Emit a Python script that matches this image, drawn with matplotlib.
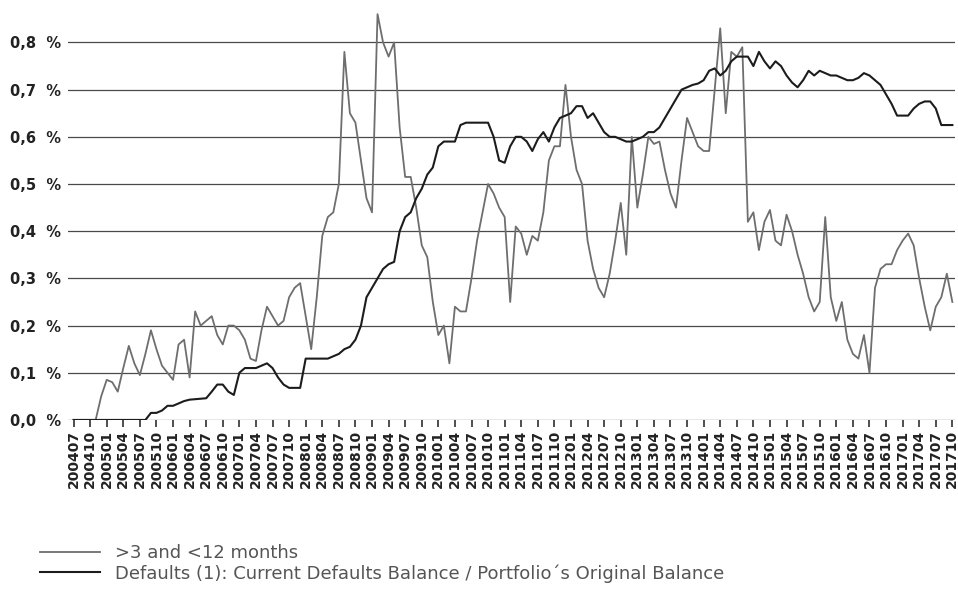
import numpy as np
import pandas as pd
import matplotlib
matplotlib.use("Agg")
import matplotlib.pyplot as plt

# monthly observation dates, 200407 .. 201710
months = pd.period_range("2004-07", "2017-10", freq="M").strftime("%Y%m").tolist()

# arrears >3 and <12 months (% of balance)
arrears_3_12 = [
    0, 0, 0, 0, 0, 0.05, 0.085, 0.08, 0.06, 0.11,
    0.157, 0.12, 0.095, 0.14, 0.19, 0.15, 0.115, 0.1, 0.085, 0.16,
    0.17, 0.09, 0.23, 0.2, 0.21, 0.22, 0.18, 0.16, 0.2, 0.2,
    0.19, 0.17, 0.13, 0.125, 0.19, 0.24, 0.22, 0.2, 0.21, 0.26,
    0.28, 0.29, 0.22, 0.15, 0.26, 0.39, 0.43, 0.44, 0.5, 0.78,
    0.65, 0.63, 0.55, 0.47, 0.44, 0.86, 0.8, 0.77, 0.8, 0.62,
    0.515, 0.515, 0.45, 0.37, 0.345, 0.25, 0.18, 0.2, 0.12, 0.24,
    0.23, 0.23, 0.3, 0.38, 0.44, 0.5, 0.48, 0.45, 0.43, 0.25,
    0.41, 0.395, 0.35, 0.39, 0.38, 0.44, 0.55, 0.58, 0.58, 0.71,
    0.6, 0.53, 0.5, 0.38, 0.32, 0.28, 0.26, 0.31, 0.38, 0.46,
    0.35, 0.6, 0.45, 0.52, 0.6, 0.585, 0.59, 0.53, 0.48, 0.45,
    0.55, 0.64, 0.61, 0.58, 0.57, 0.57, 0.7, 0.83, 0.65, 0.78,
    0.77, 0.79, 0.42, 0.44, 0.36, 0.42, 0.445, 0.38, 0.37, 0.435,
    0.4, 0.35, 0.31, 0.26, 0.23, 0.25, 0.43, 0.26, 0.21, 0.25,
    0.17, 0.14, 0.13, 0.18, 0.1, 0.28, 0.32, 0.33, 0.33, 0.36,
    0.38, 0.395, 0.37, 0.3, 0.24, 0.19, 0.24, 0.26, 0.31, 0.25,
]

# current defaults balance / original balance (%)
defaults = [
    0, 0, 0, 0, 0, 0, 0, 0, 0, 0,
    0, 0, 0, 0, 0.015, 0.015, 0.02, 0.03, 0.03, 0.035,
    0.04, 0.043, 0.044, 0.045, 0.046, 0.06, 0.075, 0.075, 0.06, 0.053,
    0.1, 0.11, 0.11, 0.11, 0.115, 0.12, 0.11, 0.09, 0.075, 0.068,
    0.068, 0.068, 0.13, 0.13, 0.13, 0.13, 0.13, 0.135, 0.14, 0.15,
    0.155, 0.17, 0.2, 0.26, 0.28, 0.3, 0.32, 0.33, 0.335, 0.4,
    0.43, 0.44, 0.47, 0.49, 0.52, 0.535, 0.58, 0.59, 0.59, 0.59,
    0.625, 0.63, 0.63, 0.63, 0.63, 0.63, 0.6, 0.55, 0.545, 0.58,
    0.6, 0.6, 0.59, 0.57, 0.595, 0.61, 0.59, 0.62, 0.64, 0.645,
    0.65, 0.665, 0.665, 0.64, 0.65, 0.63, 0.61, 0.6, 0.6, 0.595,
    0.59, 0.59, 0.595, 0.6, 0.61, 0.61, 0.62, 0.64, 0.66, 0.68,
    0.7, 0.705, 0.71, 0.713, 0.72, 0.74, 0.745, 0.73, 0.74, 0.76,
    0.77, 0.77, 0.77, 0.75, 0.78, 0.76, 0.745, 0.76, 0.75, 0.73,
    0.715, 0.705, 0.72, 0.74, 0.73, 0.74, 0.735, 0.73, 0.73, 0.725,
    0.72, 0.72, 0.725, 0.735, 0.73, 0.72, 0.71, 0.69, 0.67, 0.645,
    0.645, 0.645, 0.66, 0.67, 0.675, 0.675, 0.66, 0.625, 0.625, 0.625,
]

y_ticks = [0.0, 0.1, 0.2, 0.3, 0.4, 0.5, 0.6, 0.7, 0.8]
y_labels = ["0,0  %", "0,1  %", "0,2  %", "0,3  %", "0,4  %",
            "0,5  %", "0,6  %", "0,7  %", "0,8  %"]

series_labels = [">3 and <12 months",
                 "Defaults (1): Current Defaults Balance / Portfolio´s Original Balance"]

x = np.arange(len(months))

fig = plt.figure(figsize=(9.58, 5.89), dpi=100)
ax = fig.add_axes([0.071, 0.287, 0.926, 0.705])

for y in y_ticks:
    ax.axhline(y, color="#4a4a4a", lw=0.9, zorder=1)

l1, = ax.plot(x, arrears_3_12, color="#6e6e6e", lw=1.3, zorder=3)
l2, = ax.plot(x, defaults, color="#1c1c1c", lw=1.5, zorder=4)

ax.set_xlim(-1, 159.5)
ax.set_ylim(0, 0.88)

ax.set_yticks(y_ticks)
ax.set_yticklabels(y_labels, fontsize=10.5, fontweight="bold", color="#222222")
ax.tick_params(axis="y", length=0, pad=5)

qx = x[::3]
ax.set_xticks(qx)
ax.set_xticklabels([months[i] for i in qx], rotation=90, fontsize=10,
                   fontweight="bold", color="#222222")
ax.tick_params(axis="x", length=5, width=1.2, color="#303030", pad=2)

for s in ax.spines.values():
    s.set_visible(False)

fig.legend([l1, l2], series_labels, loc="upper left",
           bbox_to_anchor=(0.025, 0.104), frameon=False,
           fontsize=13, handlelength=3.3, handletextpad=0.85,
           labelspacing=0.12, labelcolor="#555555")

fig.savefig("out.png", dpi=100, facecolor="white")
